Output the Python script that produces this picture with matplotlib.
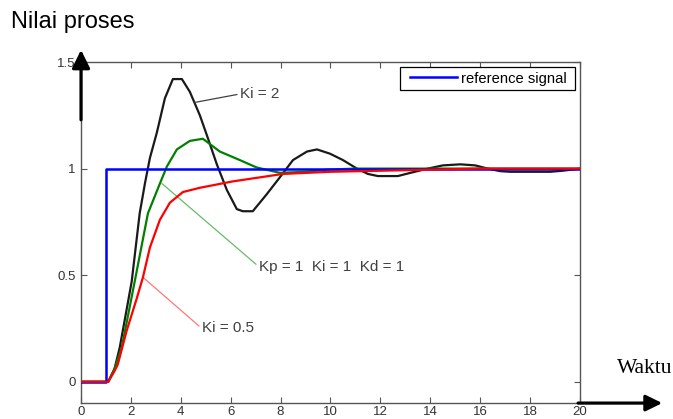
import matplotlib
matplotlib.use("Agg")
import matplotlib.pyplot as plt
from matplotlib.legend_handler import HandlerLine2D

plt.rcParams['font.family'] = ['Liberation Sans', 'DejaVu Sans']

# reference step input
t_ref = [0, 1, 1, 20]
y_ref = [0, 0, 1, 1]

# Ki = 2 response (black)
t_ki2 = [0, 1.1, 1.35, 1.56, 2.04, 2.36, 2.57, 2.77, 3.05, 3.37, 3.69, 4.05, 4.37,
         4.77, 5.07, 5.45, 5.85, 6.25, 6.49, 6.89, 7.45, 7.98, 8.5, 9.06, 9.46, 9.98,
         10.5, 11.06, 11.5, 11.9, 12.7, 13.2, 13.9, 14.5, 15.2, 15.8, 16.3, 16.8,
         17.2, 18.8, 19.3, 20]
y_ki2 = [0, 0, 0.06, 0.16, 0.47, 0.79, 0.93, 1.05, 1.17, 1.33, 1.42, 1.42, 1.36,
         1.25, 1.15, 1.02, 0.90, 0.81, 0.80, 0.80, 0.88, 0.96, 1.04, 1.08, 1.09, 1.07,
         1.04, 1.0, 0.975, 0.965, 0.965, 0.98, 1.0, 1.015, 1.02, 1.015, 1.0, 0.988,
         0.985, 0.985, 0.99, 1.0]

# Kp = 1, Ki = 1, Kd = 1 response (green)
t_ki1 = [0, 1.1, 1.35, 1.64, 2.16, 2.69, 3.17, 3.45, 3.85, 4.37, 4.89, 5.57, 6.37,
         7.05, 7.98, 9.0, 9.86, 11.0, 20]
y_ki1 = [0, 0, 0.06, 0.16, 0.47, 0.79, 0.93, 1.01, 1.09, 1.13, 1.14, 1.08, 1.04,
         1.005, 0.98, 0.985, 0.995, 1.0, 1.0]

# Ki = 0.5 response (red)
t_ki05 = [0, 1.1, 1.35, 1.48, 1.84, 2.24, 2.49, 2.77, 3.17, 3.57, 4.09, 4.77, 6.09,
          8.1, 10.0, 12.0, 14.0, 16.0, 20]
y_ki05 = [0, 0, 0.05, 0.08, 0.24, 0.39, 0.49, 0.63, 0.76, 0.84, 0.89, 0.91, 0.94,
          0.975, 0.985, 0.99, 0.995, 1.0, 1.0]

x_ticks = list(range(0, 21, 2))
y_ticks = [0, 0.5, 1, 1.5]
y_labels = ["0", "0.5", "1", "1.5"]

fig = plt.figure(figsize=(6.73, 4.19), dpi=100)
ax = fig.add_axes([0.120, 0.038, 0.742, 0.814])

ref_line, = ax.plot(t_ref, y_ref, color="#0000ff", lw=1.8, label="reference signal ", zorder=3)
ax.plot(t_ki2, y_ki2, color="#1a1a1a", lw=1.6, zorder=2)
ax.plot(t_ki1, y_ki1, color="#008000", lw=1.6, zorder=2)
ax.plot(t_ki05, y_ki05, color="#ff0000", lw=1.6, zorder=4)

ax.set_xlim(0, 20)
ax.set_ylim(-0.1, 1.5)
ax.set_xticks(x_ticks)
ax.set_yticks(y_ticks)
ax.set_yticklabels(y_labels)
ax.tick_params(direction="in", top=True, right=True, length=4, width=0.8,
               labelsize=9.5, labelcolor="#333333", color="#555555")
ax.tick_params(axis="x", pad=2)
for s in ax.spines.values():
    s.set_color("#555555")
    s.set_linewidth(1.0)

leg = ax.legend(loc="upper right", fontsize=10.6, handlelength=3.55, handletextpad=0.27,
                borderaxespad=0.35, borderpad=0.3, fancybox=False, framealpha=1,
                handler_map={ref_line: HandlerLine2D(xpad=0.4)})
leg.get_frame().set_edgecolor("black")
leg.get_frame().set_linewidth(0.9)

# curve labels with leader lines
ax.annotate("Ki = 2", xy=(4.55, 1.31), xytext=(6.37, 1.35), fontsize=11,
            color="#404040", ha="left", va="center",
            arrowprops=dict(arrowstyle="-", color="#404040", lw=0.9,
                            relpos=(0, 0.5), shrinkA=0, shrinkB=0))
ax.annotate("Kp = 1  Ki = 1  Kd = 1", xy=(3.25, 0.93), xytext=(7.13, 0.54),
            fontsize=11, color="#404040", ha="left", va="center",
            arrowprops=dict(arrowstyle="-", color="#66bb66", lw=0.9,
                            relpos=(0, 0.5), shrinkA=0, shrinkB=0))
ax.annotate("Ki = 0.5", xy=(2.49, 0.49), xytext=(4.85, 0.25), fontsize=11,
            color="#404040", ha="left", va="center",
            arrowprops=dict(arrowstyle="-", color="#ff7777", lw=0.9,
                            relpos=(0, 0.5), shrinkA=0, shrinkB=0))

# axis arrows drawn over the frame
arrow_style = "-|>,head_length=0.55,head_width=0.27"
ax.annotate("", xy=(0.1204, 0.881), xytext=(0.1204, 0.714), xycoords="figure fraction",
            arrowprops=dict(arrowstyle=arrow_style, lw=2.3, color="black",
                            mutation_scale=20, shrinkA=0, shrinkB=0),
            annotation_clip=False, zorder=10)
ax.annotate("", xy=(0.984, 0.038), xytext=(0.859, 0.038), xycoords="figure fraction",
            arrowprops=dict(arrowstyle=arrow_style, lw=2.3, color="black",
                            mutation_scale=18, shrinkA=0, shrinkB=0),
            annotation_clip=False, zorder=10)

fig.text(0.017, 0.947, "Nilai proses", fontsize=17, ha="left", va="center")
fig.text(0.917, 0.12, "Waktu", fontsize=15.5, ha="left", va="center",
         family="Liberation Serif")

fig.savefig("out.png", dpi=100)
